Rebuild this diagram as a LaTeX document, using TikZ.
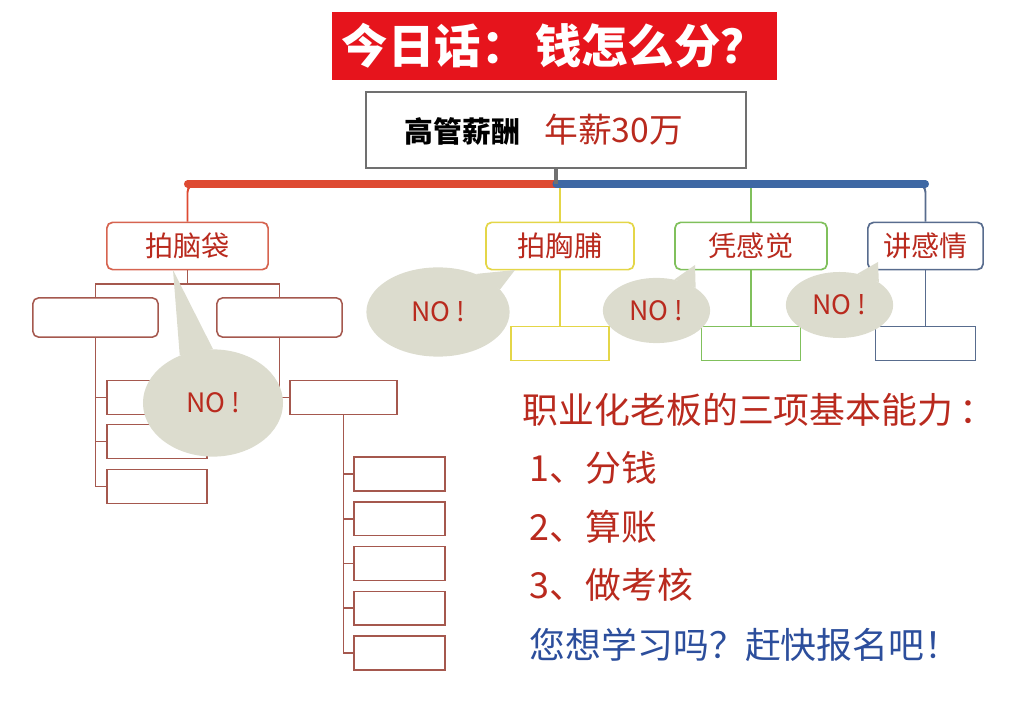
\documentclass[tikz,border=0pt]{standalone}
\usepackage{fontspec}
\newfontfamily\cjk{Noto Sans CJK SC}
\usetikzlibrary{shapes.geometric, positioning}

\definecolor{titlered}{RGB}{230,20,28}
\definecolor{framegray}{RGB}{112,112,112}
\definecolor{barred}{RGB}{222,74,50}
\definecolor{barblue}{RGB}{62,104,164}
\definecolor{treebrown}{RGB}{165,88,78}
\definecolor{brainred}{RGB}{214,100,80}
\definecolor{chestyellow}{RGB}{228,214,72}
\definecolor{feelgreen}{RGB}{128,192,92}
\definecolor{loveblue}{RGB}{88,108,142}
\definecolor{bubblegray}{RGB}{220,220,206}
\definecolor{notered}{RGB}{185,42,30}
\definecolor{askblue}{RGB}{44,78,156}

\begin{document}
\begin{tikzpicture}[x=0.025cm, y=-0.025cm, font=\cjk,
  topic/.style={draw, rounded corners=4pt, line width=1.2pt, fill=white, minimum height=1.18cm, text=notered, font=\cjk\fontsize{20}{24}\selectfont},
  blank/.style={draw=treebrown, line width=1.1pt, fill=white, minimum height=0.84cm},
  bubble/.style={ellipse, fill=bubblegray, text=notered, font=\cjk\fontsize{19}{22}\selectfont},
  treeline/.style={treebrown, line width=1.1pt},
  listline/.style={anchor=west, text=notered, font=\cjk\fontsize{25.5}{30}\selectfont}]
\useasboundingbox (0,0) rectangle (1026,720);

% Title and salary
\node[fill=titlered, minimum width=11.13cm, minimum height=1.7cm, text=white, font=\cjk\bfseries\fontsize{33}{38}\selectfont] (title) at (554.5,46) {今日话：\,钱怎么分？};
\node[draw=framegray, line width=2pt, minimum width=9.5cm, minimum height=1.9cm] (salary) at (556,130)
  {{\bfseries\fontsize{20.5}{24}\selectfont 高管薪酬}\hspace{0.6cm}{\color{notered}\fontsize{24}{28}\selectfont 年薪30万}\hspace*{0.6cm}};

% Four ways
\node[topic, draw=brainred, minimum width=4.03cm] (brain) at (187.5,246) {拍脑袋};
\node[topic, draw=chestyellow, minimum width=3.7cm] (chest) at (560,246) {拍胸脯};
\node[topic, draw=feelgreen, minimum width=3.8cm] (feel) at (751,246) {凭感觉};
\node[topic, draw=loveblue, minimum width=2.88cm] (love) at (925.5,246) {讲感情};

\coordinate (hub) at (556,184);
\draw[chestyellow, line width=1.4pt] (chest.north) -- (chest.north |- hub);
\draw[feelgreen, line width=1.4pt] (feel.north) -- (feel.north |- hub);
\draw[barred, line width=1.4pt, rounded corners=6pt] (brain.north) |- (hub);
\draw[loveblue, line width=1.4pt, rounded corners=6pt] (love.north) |- (hub);
\draw[barred, line width=5pt, line cap=round] (hub) -- (hub -| brain.north);
\draw[barblue, line width=5pt, line cap=round] (hub) -- (hub -| love.north);
\draw[framegray, line width=3pt] (salary.south) -- (hub);

% Small boxes under the right three
\node[blank, draw=chestyellow, minimum width=2.45cm] (chestsub) at (560,343.5) {};
\node[blank, draw=feelgreen, minimum width=2.48cm] (feelsub) at (751,343.5) {};
\node[blank, draw=loveblue, minimum width=2.5cm] (lovesub) at (925.5,343.5) {};
\draw[chestyellow, line width=1.4pt] (chest.south) -- (chestsub.north);
\draw[feelgreen, line width=1.4pt] (feel.south) -- (feelsub.north);
\draw[loveblue, line width=1.4pt] (love.south) -- (lovesub.north);

% Tree under the brain box
\node[blank, rounded corners=4pt, minimum width=3.13cm, minimum height=0.98cm] (L1) at (95.5,317.5) {};
\node[blank, rounded corners=4pt, minimum width=3.13cm, minimum height=0.98cm] (R1) at (279.5,317.5) {};
\coordinate (split) at (187.5,284);
\draw[treeline] (brain.south) -- (split);
\draw[treeline] (L1.north) |- (split) -| (R1.north);

\foreach \n/\y in {L2/397.5, L3/441.5, L4/486.5} {
  \node[blank, minimum width=2.5cm] (\n) at (157,\y) {};
  \draw[treeline] (L1.south) |- (\n.west);
}

\node[blank, minimum width=2.68cm] (R2) at (343.5,397.5) {};
\draw[treeline] (R1.south) |- (R2.west);
\foreach \i [evaluate=\i as \y using 429.25+44.75*\i] in {1,...,5} {
  \node[blank, minimum width=2.28cm] (R2-\i) at (399.5,\y) {};
  \draw[treeline] (R2.south) |- (R2-\i.west);
}

% NO bubbles
\node[bubble, minimum width=3.5cm, minimum height=2.68cm] (no1) at (213,403) {NO !};
\coordinate (tip1) at (173,270);
\fill[bubblegray] (no1.125) -- (tip1) -- (no1.90) -- cycle;

\node[bubble, minimum width=3.58cm, minimum height=2.23cm] (no2) at (438,312) {NO !};
\coordinate (tip2) at (515,270);
\fill[bubblegray] (no2.20) -- (tip2) -- (no2.45) -- cycle;

\node[bubble, minimum width=2.68cm, minimum height=1.63cm] (no3) at (656.5,310.5) {NO !};
\coordinate (tip3) at (695,265);
\fill[bubblegray] (no3.30) -- (tip3) -- (no3.60) -- cycle;

\node[bubble, minimum width=2.68cm, minimum height=1.65cm] (no4) at (839.5,305) {NO !};
\coordinate (tip4) at (878,262);
\fill[bubblegray] (no4.30) -- (tip4) -- (no4.60) -- cycle;

% Text on the right
\node[listline] (ability) at (518,410) {职业化老板的三项基本能力\,：};
\node[listline] (item1) at (525,468) {1、分钱};
\node[listline] (item2) at (525,527) {2、算账};
\node[listline] (item3) at (525,585) {3、做考核};
\node[listline, text=askblue] (ask) at (525,645) {您想学习吗？赶快报名吧！};

\end{tikzpicture}
\end{document}
